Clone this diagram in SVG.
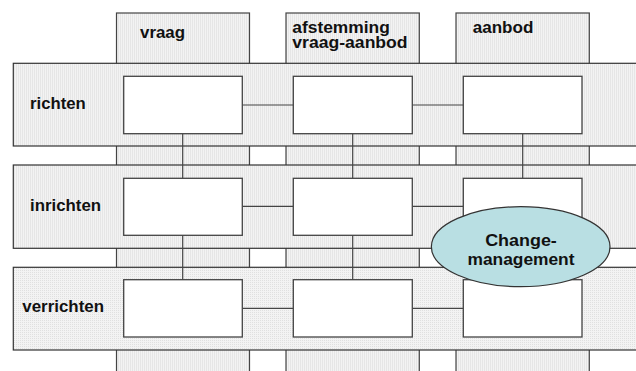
<svg xmlns="http://www.w3.org/2000/svg" width="636" height="371" viewBox="0 0 636 371">
<defs>
<pattern id="stripe" width="2" height="2" patternUnits="userSpaceOnUse"><rect width="2" height="2" fill="#f3f3f3"/><rect width="1" height="2" fill="#e6e6e6"/></pattern>
<pattern id="dots" width="2" height="2" patternUnits="userSpaceOnUse"><rect width="2" height="2" fill="#f3f3f3"/><rect width="1" height="1" fill="#e0e0e0"/></pattern>
<style>
.col{fill:url(#stripe);stroke:#444;stroke-width:1.2}
.band{stroke:#333;stroke-width:1.2}
.box{fill:#fff;stroke:#444;stroke-width:1.3}
.con{stroke:#444;stroke-width:1.2;fill:none}
.t{font-family:"Liberation Sans",Arial,sans-serif;font-weight:bold;font-size:16px;fill:#111}
</style>
</defs>
<g id="columns">
<g id="col-vraag"><rect class="col" x="116.5" y="13" width="133" height="370"/><text class="t" x="140" y="38" textLength="45" lengthAdjust="spacingAndGlyphs">vraag</text></g>
<g id="col-afstemming"><rect class="col" x="286" y="13" width="133.3" height="370"/><text class="t" x="292.3" y="32.5" textLength="97.5" lengthAdjust="spacingAndGlyphs">afstemming</text><text class="t" x="292.3" y="48" textLength="115.3" lengthAdjust="spacingAndGlyphs">vraag-aanbod</text></g>
<g id="col-aanbod"><rect class="col" x="456" y="13" width="133.3" height="370"/><text class="t" x="472.7" y="32.5" textLength="60.6" lengthAdjust="spacingAndGlyphs">aanbod</text></g>
</g>
<g id="bands">
<g id="band-richten"><rect class="band" fill="url(#stripe)" x="13.3" y="63.3" width="640" height="82.7"/><text class="t" x="30" y="108.5" textLength="55.7" lengthAdjust="spacingAndGlyphs">richten</text></g>
<g id="band-inrichten"><rect class="band" fill="url(#stripe)" x="13.3" y="165" width="640" height="83.3"/><text class="t" x="30" y="210.5" textLength="71" lengthAdjust="spacingAndGlyphs">inrichten</text></g>
<g id="band-verrichten"><rect class="band" fill="url(#dots)" x="13.3" y="267.3" width="640" height="82.7"/><text class="t" x="22.3" y="312" textLength="81.7" lengthAdjust="spacingAndGlyphs">verrichten</text></g>
</g>
<g id="connectors">
<line class="con" x1="242.3" y1="105" x2="293.3" y2="105"/>
<line class="con" x1="412.3" y1="105" x2="463.3" y2="105"/>
<line class="con" x1="242.3" y1="206.3" x2="293.3" y2="206.3"/>
<line class="con" x1="412.3" y1="206.3" x2="463.3" y2="206.3"/>
<line class="con" x1="242.3" y1="308.3" x2="293.3" y2="308.3"/>
<line class="con" x1="412.3" y1="308.3" x2="463.3" y2="308.3"/>
<line class="con" x1="182.7" y1="133.7" x2="182.7" y2="178.3"/>
<line class="con" x1="352.7" y1="133.7" x2="352.7" y2="178.3"/>
<line class="con" x1="522.7" y1="133.7" x2="522.7" y2="178.3"/>
<line class="con" x1="182.7" y1="235.3" x2="182.7" y2="279.7"/>
<line class="con" x1="352.7" y1="235.3" x2="352.7" y2="279.7"/>
</g>
<g id="box-r1"><rect class="box" x="123.7" y="76.3" width="118.6" height="57.4"/></g>
<g id="box-r2"><rect class="box" x="293.3" y="76.3" width="119" height="57.4"/></g>
<g id="box-r3"><rect class="box" x="463.3" y="76.3" width="118.7" height="57.4"/></g>
<g id="box-i1"><rect class="box" x="123.7" y="178.3" width="118.6" height="57"/></g>
<g id="box-i2"><rect class="box" x="293.3" y="178.3" width="119" height="57"/></g>
<g id="box-i3"><rect class="box" x="463.3" y="178.3" width="118.7" height="57"/></g>
<g id="box-v1"><rect class="box" x="123.7" y="279.7" width="118.6" height="57.3"/></g>
<g id="box-v2"><rect class="box" x="293.3" y="279.7" width="119" height="57.3"/></g>
<g id="box-v3"><rect class="box" x="463.3" y="279.7" width="118.7" height="57.3"/></g>
<g id="change-management">
<ellipse cx="520.7" cy="246.7" rx="89.3" ry="40" fill="#b9dfe3" stroke="#333" stroke-width="1.2"/>
<text class="t" x="521" y="246" text-anchor="middle" font-size="17" textLength="71.7" lengthAdjust="spacingAndGlyphs">Change-</text>
<text class="t" x="521" y="265" text-anchor="middle" font-size="17" textLength="107" lengthAdjust="spacingAndGlyphs">management</text>
</g>
</svg>
